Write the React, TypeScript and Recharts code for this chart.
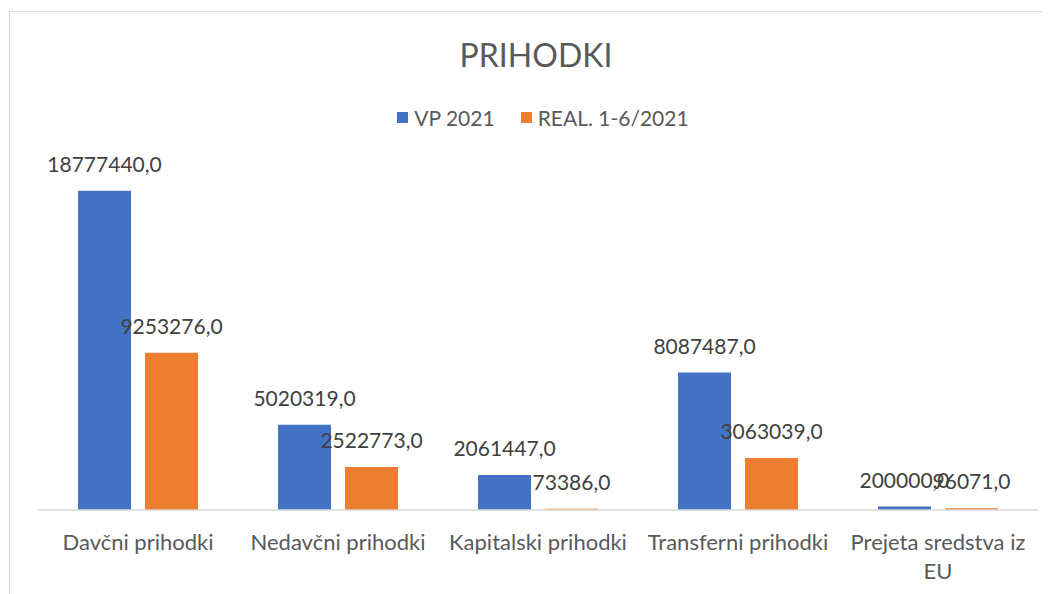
import type { FC } from "react";
import { Bar, BarChart, LabelList, XAxis, YAxis } from "recharts";

const categories = [
  "Davčni prihodki",
  "Nedavčni prihodki",
  "Kapitalski prihodki",
  "Transferni prihodki",
  "Prejeta sredstva iz EU",
];
const vp2021 = [18777440, 5020319, 2061447, 8087487, 200000];
const real2021 = [9253276, 2522773, 73386, 3063039, 96071];

const chartData = categories.map((name, i) => ({
  name,
  vp: vp2021[i],
  real: real2021[i],
}));

const font = "Lato, 'Open Sans', sans-serif";
const blue = "#4472C4";
const orange = "#ED7D31";

const fmt = (v: unknown) => Number(v).toFixed(1).replace(".", ",");

// greedy word wrap, measured with a canvas
const wrapText = (str: string, maxWidth: number, fontCss: string) => {
  const ctx = document.createElement("canvas").getContext("2d");
  if (!ctx) return [str];
  ctx.font = fontCss;
  const lines: string[] = [];
  let cur = "";
  for (const w of str.split(" ")) {
    const next = cur ? cur + " " + w : w;
    if (cur && ctx.measureText(next).width > maxWidth) {
      lines.push(cur);
      cur = w;
    } else {
      cur = next;
    }
  }
  if (cur) lines.push(cur);
  return lines;
};

const CategoryTick: FC<any> = ({ x, y, payload }) => {
  const lines = wrapText(String(payload.value), 188, "22px Lato");
  return (
    <text x={x} y={y + 32} textAnchor="middle" fill="#595959" fontSize={22} fontFamily={font}>
      {lines.map((l, i) => (
        <tspan key={i} x={x} dy={i === 0 ? 0 : 29}>
          {l}
        </tspan>
      ))}
    </text>
  );
};

const legendItems = [
  { label: "VP 2021", color: blue },
  { label: "REAL. 1-6/2021", color: orange },
];

export default function App() {
  return (
    <div style={{ position: "relative", width: 1042, height: 586, overflow: "hidden", background: "#fff" }}>
      <div
        style={{
          position: "absolute",
          left: 1,
          top: 3,
          width: 1080,
          height: 620,
          border: "1px solid #d9d9d9",
        }}
      />
      <div
        style={{
          position: "absolute",
          left: 0,
          width: 1056,
          top: 27,
          textAlign: "center",
          fontFamily: font,
          fontSize: 32,
          color: "#595959",
        }}
      >
        PRIHODKI
      </div>
      <div
        style={{
          position: "absolute",
          left: 0,
          width: 1070,
          top: 97,
          display: "flex",
          justifyContent: "center",
          gap: 26,
          fontFamily: font,
          fontSize: 21,
          color: "#595959",
        }}
      >
        {legendItems.map((it) => (
          <span key={it.label} style={{ display: "flex", alignItems: "center", gap: 6 }}>
            <span style={{ width: 11, height: 11, background: it.color, display: "inline-block" }} />
            {it.label}
          </span>
        ))}
      </div>
      <div style={{ position: "absolute", top: 0, left: 0 }}>
        <BarChart
          width={1042}
          height={586}
          data={chartData}
          margin={{ top: 162, right: 12, bottom: 24, left: 30 }}
          barCategoryGap={40}
          barGap={14}
        >
          <YAxis hide domain={[0, 20000000]} />
          <XAxis
            dataKey="name"
            height={60}
            axisLine={{ stroke: "#d9d9d9", strokeWidth: 1.5 }}
            tickLine={false}
            tick={<CategoryTick />}
            interval={0}
          />
          <Bar dataKey="vp" name="VP 2021" fill={blue} isAnimationActive={false}>
            <LabelList
              dataKey="vp"
              position="top"
              offset={19}
              formatter={fmt}
              fill="#404040"
              fontSize={21}
              fontFamily={font}
            />
          </Bar>
          <Bar dataKey="real" name="REAL. 1-6/2021" fill={orange} isAnimationActive={false}>
            <LabelList
              dataKey="real"
              position="top"
              offset={19}
              formatter={fmt}
              fill="#404040"
              fontSize={21}
              fontFamily={font}
            />
          </Bar>
        </BarChart>
      </div>
    </div>
  );
}
